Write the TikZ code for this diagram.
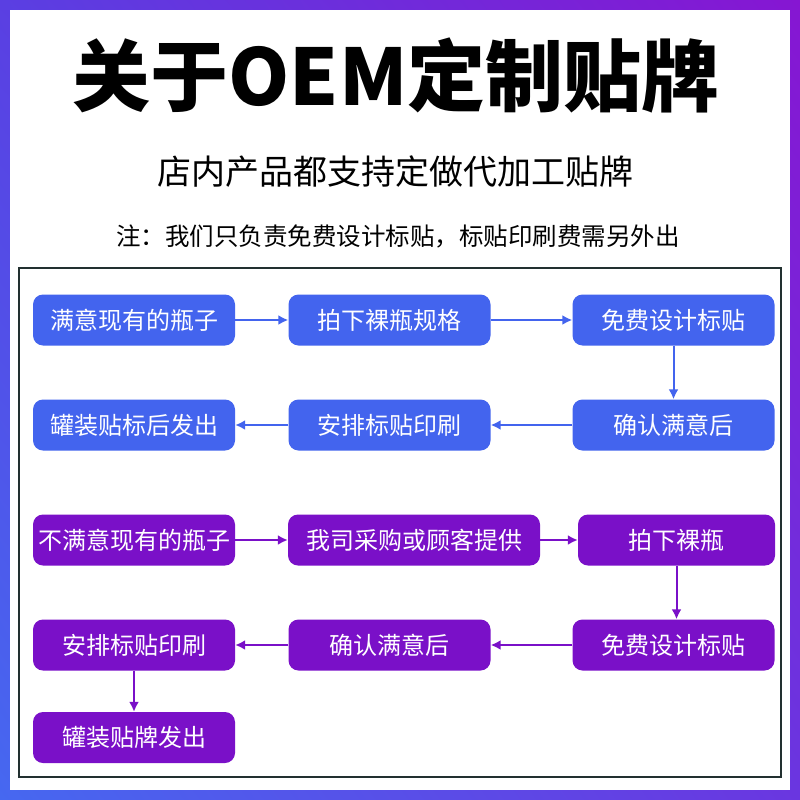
\documentclass[tikz,border=0pt]{standalone}
\usepackage{fontspec}
\setmainfont{Noto Sans CJK SC}
\usetikzlibrary{arrows.meta,positioning,shadings}
\definecolor{boxblue}{HTML}{4364EE}
\definecolor{boxpurple}{HTML}{7A10C8}
\definecolor{framegray}{HTML}{223030}
\definecolor{edgeUL}{HTML}{5A3FE2}
\definecolor{edgeUR}{HTML}{8616D2}
\definecolor{edgeLL}{HTML}{4668F0}
\definecolor{edgeLR}{HTML}{6A36E0}
\tikzset{>={Latex[length=10pt,width=10pt]}}
\tikzset{
  bluebox/.style={rectangle, rounded corners=10pt, fill=boxblue, text=white,
    minimum width=202pt, minimum height=51pt, inner sep=0pt,
    font=\fontsize{24}{24}\selectfont},
  purplebox/.style={bluebox, fill=boxpurple},
  bluearrow/.style={->, draw=boxblue, line width=2pt},
  purplearrow/.style={->, draw=boxpurple, line width=2pt}
}

\begin{document}
\begin{tikzpicture}[x=1pt,y=-1pt]
  % gradient border
  \shade[upper left=edgeUL, upper right=edgeUR,
    lower left=edgeLL, lower right=edgeLR] (0,0) rectangle (800,800);
  \fill[white] (10,10) rectangle (790,790);
  \useasboundingbox (0,0) rectangle (800,800);

  \node[font=\fontsize{78}{78}\selectfont\bfseries] (title) at (396,75) {关于OEM定制贴牌};
  \node[font=\fontsize{34}{34}\selectfont] (sub) at (395,172) {店内产品都支持定做代加工贴牌};
  \node[font=\fontsize{24.5}{24.5}\selectfont] (note) at (398,236)
    {注：我们只负责免费设计标贴，标贴印刷费需另外出};

  \draw[framegray, line width=1.2pt] (19,268) rectangle (781,777);

  % first flow
  \node[bluebox] (a1) at (134,320) {满意现有的瓶子};
  \node[bluebox] (a2) at (389.5,320) {拍下裸瓶规格};
  \node[bluebox] (a3) at (673.5,320) {免费设计标贴};
  \node[bluebox] (a4) at (673.5,425) {确认满意后};
  \node[bluebox] (a5) at (389.5,425) {安排标贴印刷};
  \node[bluebox] (a6) at (134,425) {罐装贴标后发出};
  \foreach \a/\b in {a1/a2,a2/a3,a3/a4,a4/a5,a5/a6}
    \draw[bluearrow] (\a) -- (\b);

  % second flow
  \node[purplebox] (p1) at (134,540) {不满意现有的瓶子};
  \node[purplebox, minimum width=252pt] (p2) at (414,540) {我司采购或顾客提供};
  \node[purplebox, minimum width=197pt] (p3) at (676.5,540) {拍下裸瓶};
  \node[purplebox] (p4) at (673.5,645) {免费设计标贴};
  \node[purplebox] (p5) at (389.5,645) {确认满意后};
  \node[purplebox] (p6) at (134,645) {安排标贴印刷};
  \node[purplebox] (p7) at (134,737.5) {罐装贴牌发出};
  \foreach \a/\b in {p1/p2,p2/p3,p4/p5,p5/p6,p6/p7}
    \draw[purplearrow] (\a) -- (\b);
  \draw[purplearrow] (p3.south) -- (p3.south |- p4.north);
\end{tikzpicture}
\end{document}
